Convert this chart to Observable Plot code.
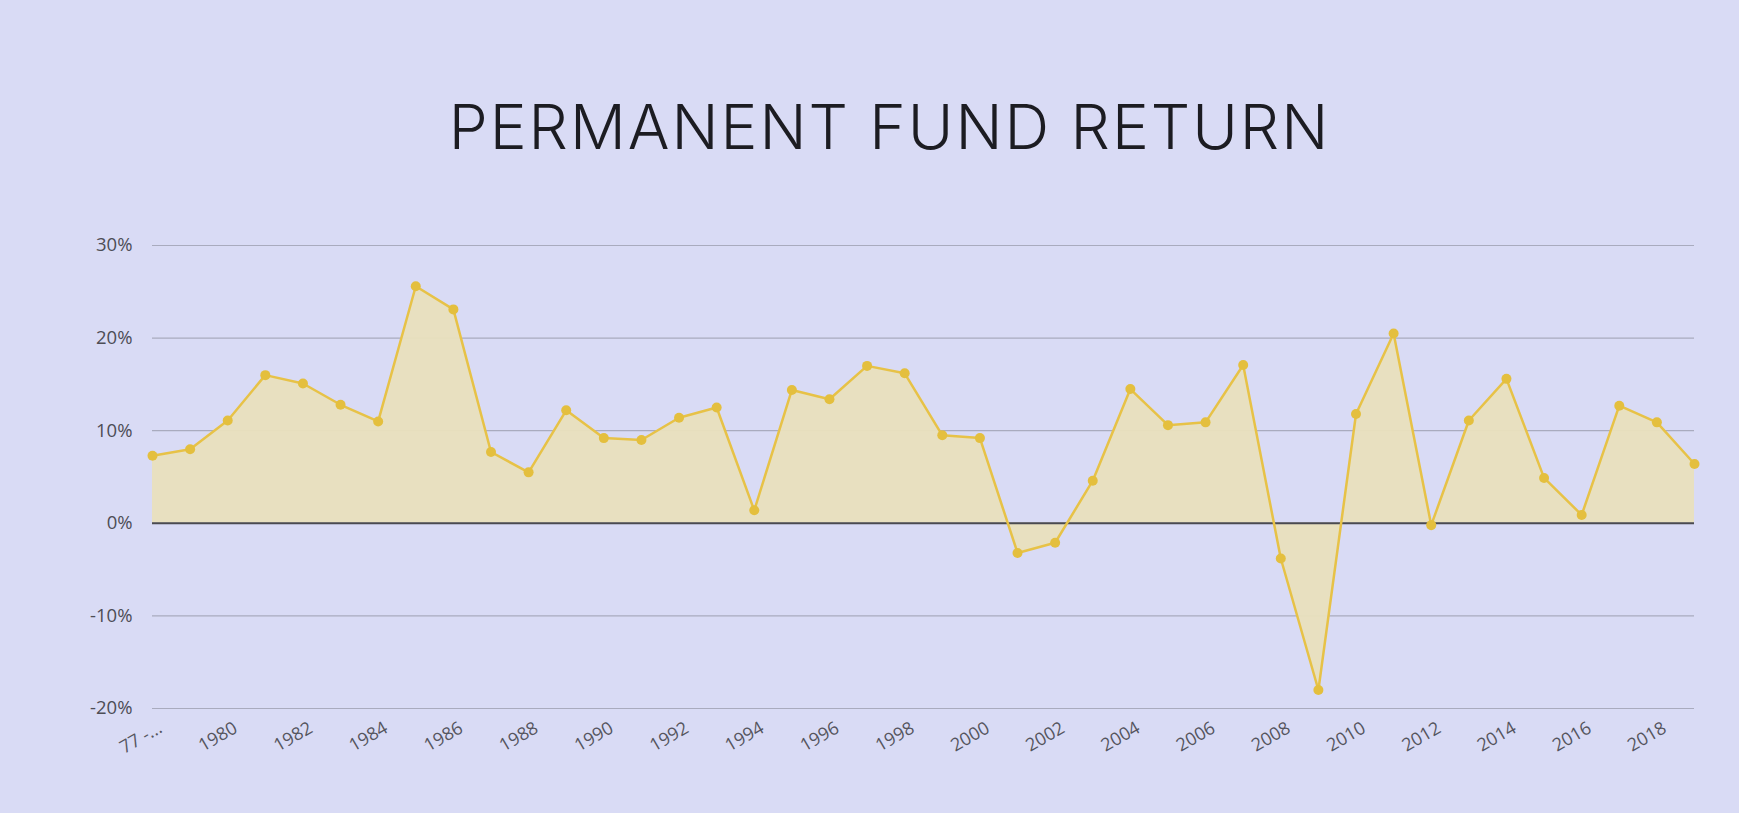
<!DOCTYPE html>
<html>
<head>
<meta charset="utf-8">
<script src="https://cdn.jsdelivr.net/npm/d3@7"></script>
<script src="https://cdn.jsdelivr.net/npm/@observablehq/plot@0.6"></script>
<style>
  html, body { margin: 0; padding: 0; }
  body {
    width: 1739px; height: 813px; overflow: hidden;
    background: #d9dbf5;
    font-family: "Open Sans", "Noto Sans", sans-serif;
  }
  #title {
    height: 200px; box-sizing: border-box;
    padding-top: 94px;
    padding-left: 40px;
    text-align: center;
    font-family: "Inter", "Open Sans", sans-serif;
    font-weight: 300;
    font-size: 62px;
    line-height: 66px;
    color: #1c1c22;
    letter-spacing: 2px;
  }
</style>
</head>
<body>
<div id="title">PERMANENT FUND RETURN</div>
<div id="chart"></div>
<script>
const years = [1978,1979,1980,1981,1982,1983,1984,1985,1986,1987,1988,1989,1990,1991,1992,1993,1994,1995,1996,1997,1998,1999,2000,2001,2002,2003,2004,2005,2006,2007,2008,2009,2010,2011,2012,2013,2014,2015,2016,2017,2018,2019];
const returns = [7.3,8.0,11.1,16.0,15.1,12.8,11.0,25.6,23.1,7.7,5.5,12.2,9.2,9.0,11.4,12.5,1.4,14.4,13.4,17.0,16.2,9.5,9.2,-3.2,-2.1,4.6,14.5,10.6,10.9,17.1,-3.8,-18.0,11.8,20.5,-0.2,11.1,15.6,4.9,0.9,12.7,10.9,6.4];
const xTicks = [1978,1980,1982,1984,1986,1988,1990,1992,1994,1996,1998,2000,2002,2004,2006,2008,2010,2012,2014,2016,2018];
const xTickLabels = ["77 -...","1980","1982","1984","1986","1988","1990","1992","1994","1996","1998","2000","2002","2004","2006","2008","2010","2012","2014","2016","2018"];
const yTicks = [-20,-10,0,10,20,30];

const data = years.map((year, i) => ({year, value: returns[i]}));

const chart = Plot.plot({
  width: 1739,
  height: 613,
  marginLeft: 152,
  marginRight: 45,
  marginTop: 45,
  marginBottom: 105,
  style: {background: "transparent", fontFamily: "'Open Sans', sans-serif"},
  x: {domain: [1978, 2019]},
  y: {domain: [-20, 30]},
  marks: [
    Plot.gridY(yTicks, {stroke: "#a9abbe", strokeOpacity: 1, strokeWidth: 1.2}),
    Plot.areaY(data, {x: "year", y: "value", fill: "#e9e0bd", fillOpacity: 0.95}),
    Plot.ruleY([0], {stroke: "#4a4a50", strokeWidth: 2}),
    Plot.line(data, {x: "year", y: "value", stroke: "#e7c247", strokeWidth: 2.5}),
    Plot.dot(data, {x: "year", y: "value", r: 5, fill: "#e4bf3e", stroke: "none"}),
    Plot.axisY(yTicks, {tickFormat: d => d + "%", tickSize: 0, tickPadding: 20, fontSize: 18.5, fill: "#4d4d55", label: null}),
    Plot.axisX(xTicks, {tickFormat: (d, i) => xTickLabels[i], tickSize: 0, tickPadding: 18, tickRotate: -30, fontSize: 18, fill: "#55555e", label: null, dx: 8})
  ]
});
document.getElementById("chart").appendChild(chart);
</script>
</body>
</html>
